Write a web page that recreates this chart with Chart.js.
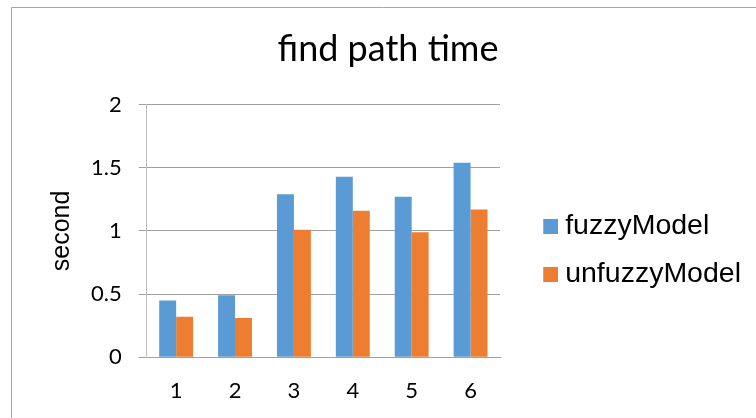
<!DOCTYPE html>
<html>
<head>
<meta charset="utf-8">
<title>find path time</title>
<script src="https://cdn.jsdelivr.net/npm/chart.js@4.4.1/dist/chart.umd.min.js"></script>
<style>
  html, body { margin: 0; padding: 0; background: #ffffff; }
  #wrap { width: 756px; height: 418px; }
</style>
</head>
<body>
<div id="wrap"><canvas id="chart" width="756" height="418"></canvas></div>
<script>
// Run index (x axis)
const categories = ['1', '2', '3', '4', '5', '6'];
// Time to find the path, in seconds
const fuzzyModel = [0.45, 0.49, 1.29, 1.43, 1.27, 1.54];
const unfuzzyModel = [0.32, 0.31, 1.01, 1.16, 0.99, 1.17];
// Value axis ticks
const yTicks = [0, 0.5, 1, 1.5, 2];

const seriesNames = ['fuzzyModel', 'unfuzzyModel'];
const seriesColors = ['#5B9BD5', '#ED7D31'];

// Legend swatch: a square sitting at the right end of a transparent strip
function swatch(color) {
  const c = document.createElement('canvas');
  c.width = 46; c.height = 15;
  const g = c.getContext('2d');
  g.fillStyle = color;
  g.fillRect(31, 0, 15, 15);
  return c;
}

// Thin frame along the top and left edges
const framePlugin = {
  id: 'frame',
  beforeDraw(chart) {
    const ctx = chart.ctx;
    ctx.save();
    ctx.fillStyle = '#ffffff';
    ctx.fillRect(0, 0, chart.width, chart.height);
    ctx.strokeStyle = '#a6a6a6';
    ctx.lineWidth = 1;
    ctx.beginPath();
    ctx.moveTo(11.5, chart.height);
    ctx.lineTo(11.5, 7.5);
    ctx.lineTo(chart.width, 7.5);
    ctx.stroke();
    ctx.restore();
  }
};

new Chart(document.getElementById('chart'), {
  type: 'bar',
  data: {
    labels: categories,
    datasets: [
      { label: seriesNames[0], data: fuzzyModel, backgroundColor: seriesColors[0] },
      { label: seriesNames[1], data: unfuzzyModel, backgroundColor: seriesColors[1] }
    ]
  },
  options: {
    responsive: false,
    animation: false,
    devicePixelRatio: 1,
    categoryPercentage: 0.576,
    barPercentage: 1.0,
    layout: { padding: { left: 25, right: 5, top: 0, bottom: -7.6 } },
    plugins: {
      tooltip: { enabled: false },
      title: {
        display: true,
        text: 'find path time',
        color: '#000000',
        font: { family: 'Lato', size: 36, weight: 'normal', lineHeight: 1.2 },
        padding: { top: 27.5, bottom: 34 }
      },
      legend: {
        position: 'right',
        fullSize: false,
        maxWidth: 300,
        title: { display: true, text: '', font: { size: 10, lineHeight: 1 }, padding: { top: 0, bottom: 28.2 } },
        labels: {
          usePointStyle: true,
          pointStyleWidth: 31.4,
          boxHeight: 15,
          padding: 19.5,
          color: '#000000',
          font: { family: 'Liberation Sans', size: 28.5 },
          generateLabels(chart) {
            return Chart.defaults.plugins.legend.labels.generateLabels(chart)
              .map((item, i) => Object.assign(item, { pointStyle: swatch(seriesColors[i]) }));
          }
        }
      }
    },
    scales: {
      x: {
        grid: { display: false, drawTicks: false },
        border: { display: true, color: '#a0a0a0', width: 1 },
        ticks: {
          color: '#000000',
          padding: 21,
          maxRotation: 0,
          font: { family: 'Lato', size: 22, lineHeight: 1.2 }
        }
      },
      y: {
        min: 0,
        max: 2,
        afterBuildTicks(scale) { scale.ticks = yTicks.map(v => ({ value: v })); },
        grid: { color: '#a0a0a0', lineWidth: 1, drawTicks: true, tickLength: 8 },
        border: { display: true, color: '#c0c0c0', width: 1 },
        ticks: {
          color: '#000000',
          padding: 17,
          callback: (value) => String(value),
          font: { family: 'Lato', size: 22, lineHeight: 1.2 }
        },
        title: {
          display: true,
          text: 'second',
          color: '#000000',
          font: { family: 'Liberation Sans', size: 25, lineHeight: 1.2 },
          padding: { top: 22, bottom: -3 }
        }
      }
    }
  },
  plugins: [framePlugin]
});
</script>
</body>
</html>
